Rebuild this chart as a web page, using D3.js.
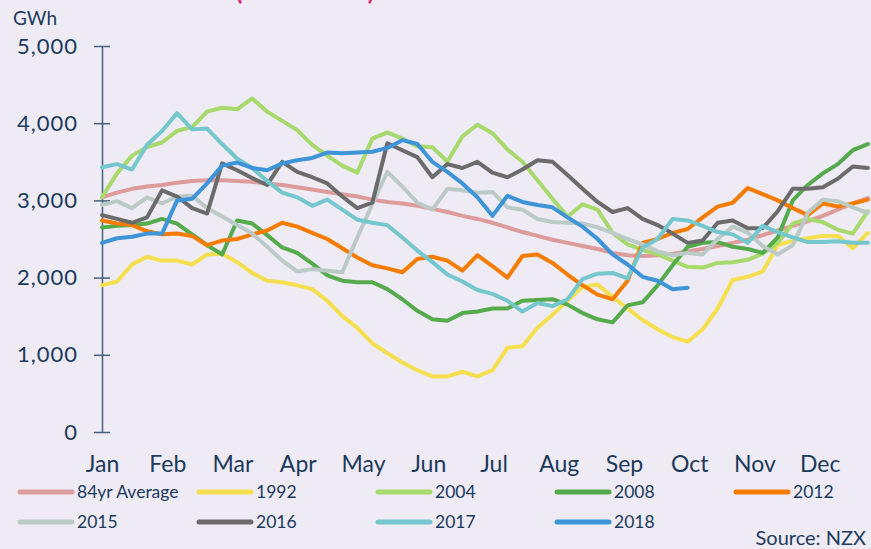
<!DOCTYPE html>
<html>
<head>
<meta charset="utf-8">
<script src="https://cdn.jsdelivr.net/npm/d3@7"></script>
<style>
  html, body { margin: 0; padding: 0; background: #eeebf5; }
  #chart { width: 871px; height: 549px; }
  text { font-family: Lato, "Open Sans", sans-serif; }
</style>
</head>
<body>
<div id="chart"></div>
<script>
// month labels, equally spaced along x
const months = ["Jan", "Feb", "Mar", "Apr", "May", "Jun", "Jul", "Aug", "Sep", "Oct", "Nov", "Dec"];
const yTicks = [0, 1000, 2000, 3000, 4000, 5000];

// weekly storage, GWh (week 0 = 1 Jan)
const avg84 = [3040, 3100, 3150, 3180, 3200, 3230, 3250, 3260, 3260, 3250, 3240, 3220, 3200, 3170, 3140, 3110,
  3080, 3050, 3010, 2980, 2960, 2930, 2890, 2850, 2800, 2760, 2710, 2650, 2590, 2540, 2490, 2450,
  2410, 2370, 2320, 2290, 2280, 2290, 2310, 2340, 2370, 2410, 2450, 2490, 2550, 2610, 2670, 2730,
  2800, 2880, 2960, 3030];
const y1992 = [1900, 1950, 2170, 2270, 2220, 2220, 2170, 2300, 2310, 2200, 2060, 1960, 1940, 1900, 1850, 1700,
  1500, 1350, 1150, 1020, 900, 800, 720, 720, 780, 720, 800, 1090, 1110, 1350, 1520, 1700,
  1880, 1910, 1750, 1600, 1450, 1330, 1230, 1170, 1330, 1600, 1970, 2010, 2080, 2420, 2480, 2510,
  2540, 2540, 2380, 2580];
const y2004 = [3040, 3350, 3580, 3690, 3750, 3900, 3950, 4150, 4200, 4180, 4320, 4150, 4030, 3910, 3720, 3580,
  3450, 3360, 3800, 3880, 3800, 3700, 3690, 3500, 3830, 3980, 3870, 3660, 3500, 3260, 3020, 2790,
  2950, 2880, 2580, 2430, 2360, 2300, 2220, 2140, 2130, 2190, 2200, 2230, 2310, 2450, 2700, 2760,
  2720, 2620, 2570, 2860];
const y2008 = [2650, 2670, 2680, 2700, 2760, 2700, 2560, 2420, 2300, 2740, 2700, 2550, 2390, 2320, 2180, 2030,
  1960, 1940, 1940, 1850, 1720, 1570, 1460, 1440, 1540, 1560, 1600, 1600, 1700, 1710, 1720, 1650,
  1540, 1460, 1420, 1640, 1680, 1900, 2160, 2400, 2450, 2460, 2400, 2370, 2320, 2520, 3000, 3200,
  3350, 3470, 3650, 3730];
const y2012 = [2740, 2700, 2680, 2600, 2560, 2570, 2540, 2420, 2480, 2500, 2560, 2610, 2710, 2660, 2580, 2500,
  2380, 2260, 2160, 2120, 2070, 2240, 2270, 2220, 2090, 2290, 2150, 2000, 2280, 2300, 2190, 2040,
  1900, 1780, 1720, 1960, 2450, 2500, 2580, 2630, 2780, 2920, 2970, 3160, 3080, 3000, 2900, 2810,
  2960, 2920, 2960, 3010];
const y2015 = [2940, 2990, 2900, 3040, 2960, 3050, 3060, 2900, 2790, 2680, 2570, 2400, 2220, 2080, 2110, 2090,
  2070, 2520, 2950, 3370, 3180, 2970, 2880, 3150, 3130, 3100, 3110, 2910, 2880, 2760, 2720, 2710,
  2700, 2650, 2580, 2500, 2430, 2340, 2290, 2320, 2300, 2500, 2660, 2580, 2410, 2300, 2420, 2840,
  3010, 2990, 2910, 2840];
const y2016 = [2810, 2760, 2710, 2780, 3130, 3050, 2900, 2830, 3480, 3390, 3290, 3200, 3500, 3370, 3300, 3220,
  3050, 2900, 2970, 3740, 3650, 3560, 3300, 3470, 3420, 3500, 3360, 3300, 3400, 3520, 3500, 3330,
  3150, 2980, 2850, 2900, 2760, 2680, 2570, 2450, 2480, 2710, 2740, 2640, 2640, 2860, 3150, 3150,
  3170, 3280, 3440, 3420];
const y2017 = [3430, 3470, 3400, 3720, 3900, 4130, 3920, 3930, 3730, 3540, 3420, 3250, 3100, 3040, 2930, 3010,
  2880, 2750, 2710, 2680, 2520, 2350, 2200, 2040, 1950, 1840, 1790, 1700, 1560, 1670, 1630, 1720,
  1980, 2050, 2060, 1990, 2390, 2500, 2760, 2740, 2670, 2590, 2560, 2450, 2670, 2590, 2520, 2460,
  2460, 2470, 2450, 2450];
const y2018 = [2450, 2510, 2530, 2570, 2570, 3000, 3020, 3220, 3450, 3490, 3420, 3390, 3480, 3520, 3550, 3620,
  3610, 3620, 3630, 3680, 3780, 3730, 3500, 3370, 3220, 3040, 2800, 3060, 2980, 2940, 2910, 2780,
  2660, 2500, 2300, 2170, 2010, 1960, 1850, 1870];

const seriesNames = ["84yr Average", "1992", "2004", "2008", "2012", "2015", "2016", "2017", "2018"];
const seriesValues = [avg84, y1992, y2004, y2008, y2012, y2015, y2016, y2017, y2018];
const colors = ["#dd9b9b", "#f5df4f", "#a7d96c", "#55ab4b", "#f57c00", "#bccac7", "#6b6b6b", "#74c7cc", "#3d94d7"];

const W = 871, H = 549;
const ink = "#1c3a5b";
const axisInk = "#46617f";

const svg = d3.select("#chart").append("svg")
  .attr("width", W)
  .attr("height", H)
  .style("background-color", "#eeebf5");

// x in month units (equal month widths), y in GWh
const x = d3.scaleLinear().domain([0, 12]).range([102, 885]);
const y = d3.scaleLinear().domain([0, 5000]).range([432, 46]);
const weekToMonth = (w) => w * 7 * 12 / 365;

// === Title (cut off at top, as in the original) ===
svg.append("text")
  .attr("x", 305)
  .attr("y", 0)
  .attr("text-anchor", "middle")
  .style("fill", "#e8186a")
  .style("font-size", "24px")
  .style("font-weight", "bold")
  .text("(1934–2018)");

// === Y axis ===
const yAxis = svg.append("g")
  .attr("transform", `translate(${x(0)},0)`)
  .call(d3.axisLeft(y).tickValues(yTicks).tickSize(8).tickSizeOuter(0).tickPadding(16)
    .tickFormat(d3.format(",")));

yAxis.select(".domain").attr("stroke", axisInk).attr("stroke-width", 1.5);
yAxis.selectAll(".tick line").attr("x1", -8).attr("x2", 8).attr("stroke", axisInk).attr("stroke-width", 1.5);
yAxis.selectAll(".tick text")
  .style("fill", ink)
  .style("font-size", "22px")
  .style("letter-spacing", "1px")
  .attr("font-family", null);

svg.append("text")
  .attr("x", 13)
  .attr("y", 25)
  .style("fill", ink)
  .style("font-size", "19px")
  .text("GWh");

// === X axis (labels only) ===
const xAxis = svg.append("g")
  .attr("transform", "translate(0,446)")
  .call(d3.axisBottom(x).tickValues(d3.range(12)).tickSize(0).tickPadding(10)
    .tickFormat((i) => months[i]));

xAxis.select(".domain").remove();
xAxis.selectAll(".tick text")
  .style("fill", ink)
  .style("font-size", "23px")
  .attr("font-family", null);

// === Lines ===
const line = d3.line()
  .x((d, i) => x(weekToMonth(i)))
  .y((d) => y(d));

svg.append("g")
  .selectAll("path")
  .data(seriesValues)
  .enter()
  .append("path")
  .attr("d", (d) => line(d))
  .attr("fill", "none")
  .attr("stroke", (d, i) => colors[i])
  .attr("stroke-width", 4)
  .attr("stroke-linejoin", "round")
  .attr("stroke-linecap", "round");

// === Legend ===
const legend = svg.append("g");
seriesNames.forEach((name, i) => {
  const col = i < 5 ? i : i - 5;
  const row = i < 5 ? 0 : 1;
  const g = legend.append("g")
    .attr("transform", `translate(${20 + col * 179}, ${492 + row * 30})`);
  g.append("line")
    .attr("x1", 0)
    .attr("x2", 52)
    .attr("stroke", colors[i])
    .attr("stroke-width", 5)
    .attr("stroke-linecap", "round");
  g.append("text")
    .attr("x", 57)
    .attr("y", 6)
    .style("fill", ink)
    .style("font-size", "17.5px")
    .text(name);
});

svg.append("text")
  .attr("x", 866)
  .attr("y", 545)
  .attr("text-anchor", "end")
  .style("fill", ink)
  .style("font-size", "20px")
  .text("Source: NZX");
</script>
</body>
</html>
